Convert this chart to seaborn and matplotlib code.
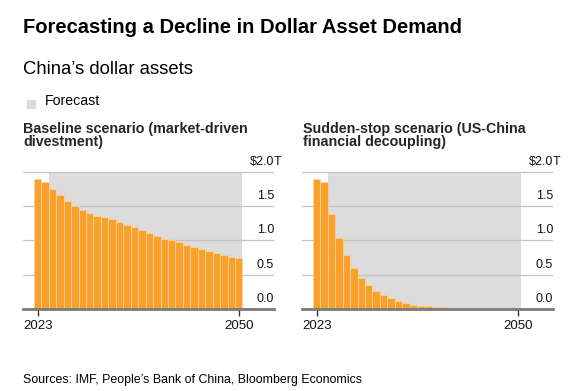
import numpy as np
import pandas as pd
import seaborn as sns
import matplotlib.pyplot as plt
from matplotlib.patches import Rectangle
from matplotlib.transforms import blended_transform_factory

# data ($T)
years = list(range(2023, 2051))
baseline = [1.90, 1.86, 1.75, 1.66, 1.58, 1.50, 1.45, 1.40, 1.36, 1.34,
            1.31, 1.27, 1.23, 1.19, 1.15, 1.11, 1.06, 1.02, 1.00, 0.97,
            0.93, 0.90, 0.88, 0.85, 0.82, 0.79, 0.76, 0.74]
sudden_stop = [1.90, 1.86, 1.39, 1.03, 0.78, 0.60, 0.45, 0.34, 0.26, 0.20,
               0.157, 0.113, 0.083, 0.059, 0.044, 0.034, 0.025, 0.020, 0.015, 0.011,
               0.008, 0.006, 0.005, 0.004, 0.003, 0.002, 0.002, 0.001]
forecast_start, forecast_end = 2024.5, 2050.5
ytick_vals = [0.0, 0.5, 1.0, 1.5, 2.0]
ytick_labels = ['0.0', '0.5', '1.0', '1.5', '$2.0']
panel_titles = ['Baseline scenario (market-driven\ndivestment)',
                'Sudden-stop scenario (US-China\nfinancial decoupling)']

sns.set_style('white')
plt.rcParams['font.family'] = ['Liberation Sans', 'DejaVu Sans']

orange = '#F9A12D'
shade = '#DCDCDC'
grid_c = '#C4C4C4'

fig = plt.figure(figsize=(5.76, 3.91), dpi=100)

# axes in figure fractions
ax_left = [0.0394, 0.5238]
ax_w = 0.4365
ax_bottom = 0.2105
ax_h = 0.3496 * 2.02 / 2

for i, vals in enumerate([baseline, sudden_stop]):
    ax = fig.add_axes([ax_left[i], ax_bottom, ax_w, ax_h])
    df = pd.DataFrame({'year': years, 'value': vals})
    ax.fill_between([forecast_start, forecast_end], 0, 2.0, color=shade, lw=0, zorder=0)
    for v in ytick_vals[1:]:
        ax.axhline(v, color=grid_c, lw=0.9, zorder=0.5)
    sns.barplot(data=df, x='year', y='value', native_scale=True, width=1.0,
                color=orange, saturation=1, edgecolor='#FDD29A', linewidth=0.6,
                ax=ax, zorder=2)
    ax.set_xlim(2021.0, 2054.75)
    ax.set_ylim(0, 2.02)
    ax.set_xlabel('')
    ax.set_ylabel('')
    ax.set_yticks([])
    ax.set_xticks([2023, 2050])
    ax.set_xticklabels(['2023', '2050'], fontsize=9.5, color='#111111')
    ax.tick_params(axis='x', length=5, width=1, color='#333333', pad=3, bottom=True)
    for s in ['left', 'right', 'top']:
        ax.spines[s].set_visible(False)
    ax.spines['bottom'].set_color('#7A7A7A')
    ax.spines['bottom'].set_linewidth(2)
    ax.spines['bottom'].set_zorder(3)
    trans = blended_transform_factory(ax.transAxes, ax.transData)
    for v, lab in zip(ytick_vals, ytick_labels):
        ax.annotate(lab, xy=(1.0, v), xycoords=trans, xytext=(0, 5),
                    textcoords='offset points', ha='right', va='baseline',
                    fontsize=9, color='#111111')
    # the T on the top label hangs past the right edge
    ax.annotate('T', xy=(1.0, 2.0), xycoords=trans, xytext=(0, 5),
                textcoords='offset points', ha='left', va='baseline',
                fontsize=9, color='#111111')

fig.text(0.04, 0.9148, 'Forecasting a Decline in Dollar Asset Demand',
         fontsize=14.5, fontweight='bold', va='baseline', color='black')
fig.text(0.04, 0.8107, 'China\u2019s dollar assets', fontsize=13.3,
         va='baseline', color='black')
fig.patches.append(Rectangle((0.0469, 0.7238), 0.0139, 0.0205, color=shade,
                             transform=fig.transFigure, figure=fig))
fig.text(0.078, 0.7315, 'Forecast', fontsize=10.2, va='baseline', color='black')
fig.text(0.04, 0.6606, panel_titles[0].split('\n')[0], fontsize=10.3,
         fontweight='bold', va='baseline')
fig.text(0.04, 0.6266, panel_titles[0].split('\n')[1], fontsize=10.3,
         fontweight='bold', va='baseline')
fig.text(0.5266, 0.6606, panel_titles[1].split('\n')[0], fontsize=10.3,
         fontweight='bold', va='baseline')
fig.text(0.5266, 0.6266, panel_titles[1].split('\n')[1], fontsize=10.3,
         fontweight='bold', va='baseline')
fig.text(0.04, 0.0205, 'Sources: IMF, People\u2019s Bank of China, Bloomberg Economics',
         fontsize=8.9, va='baseline', color='black')

fig.savefig('out.png', dpi=100)
